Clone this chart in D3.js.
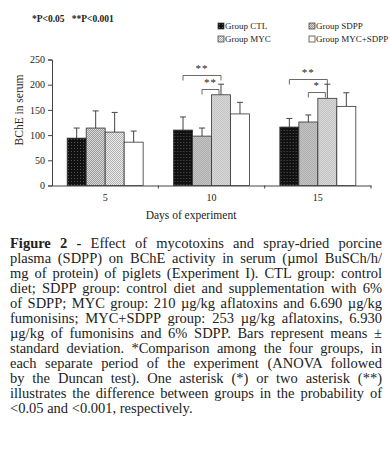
<!DOCTYPE html>
<html>
<head>
<meta charset="utf-8">
<script src="https://cdn.jsdelivr.net/npm/d3@7"></script>
<style>
  body { margin: 0; background: #fff; }
  svg { display: block; }
  text { font-family: "Liberation Serif", "Times New Roman", serif; fill: #222; }
</style>
</head>
<body>
<svg id="chart" width="390" height="473"></svg>
<script>
// data
var days = ["5", "10", "15"]
var groups = ["CTL", "SDPP", "MYC", "MYC+SDPP"]
var legendLabels = ["Group CTL", "Group SDPP", "Group MYC", "Group MYC+SDPP"]
var means = [
  [94, 114, 106, 86],     // day 5
  [110, 98, 180, 142],    // day 10
  [116, 126, 173, 157]    // day 15
]
var sds = [
  [20, 34, 39, 22],
  [26, 16, 21, 23],
  [17, 14, 28, 27]
]
var yTicks = [0, 50, 100, 150, 200, 250]
// significance brackets: [day index, group from, group to, label, level]
var brackets = [
  [1, 0, 2, "**", 0],
  [1, 1, 2, "**", 1],
  [2, 0, 2, "**", 0],
  [2, 1, 2, "*", 1]
]
var captionLines = [
  ["Figure 2 -", " Effect of mycotoxins and spray-dried porcine"],
  ["", "plasma (SDPP) on BChE activity in serum (\u00b5mol BuSCh/h/"],
  ["", "mg of protein) of piglets (Experiment I). CTL group: control"],
  ["", "diet; SDPP group: control diet and supplementation with 6%"],
  ["", "of SDPP; MYC group: 210 \u00b5g/kg aflatoxins and 6.690 \u00b5g/kg"],
  ["", "fumonisins; MYC+SDPP group: 253 \u00b5g/kg aflatoxins, 6.930"],
  ["", "\u00b5g/kg of fumonisins and 6% SDPP. Bars represent means \u00b1"],
  ["", "standard deviation. *Comparison among the four groups, in"],
  ["", "each separate period of the experiment (ANOVA followed"],
  ["", "by the Duncan test). One asterisk (*) or two asterisk (**)"],
  ["", "illustrates the difference between groups in the probability of"],
  ["", "<0.05 and <0.001, respectively."]
]

var svg = d3.select("#chart")

// fill patterns
var defs = svg.append("defs")
function pattern(id, bg, fg, size, cells){
  var p = defs.append("pattern").attr("id", id).attr("patternUnits", "userSpaceOnUse")
    .attr("width", size).attr("height", size)
  p.append("rect").attr("width", size).attr("height", size).attr("fill", bg)
  cells.forEach(c => {
    p.append("rect").attr("x", c[0]).attr("y", c[1]).attr("width", 1).attr("height", 1).attr("fill", fg)
  })
}
pattern("pCTL", "#111", "#555", 3, [[1, 1]])
pattern("pSDPP", "#9a9a9a", "#d8d8d8", 2, [[0, 0], [1, 1]])
pattern("pMYC", "#ececec", "#b0b0b0", 2, [[0, 0], [1, 1]])
var fills = ["url(#pCTL)", "url(#pSDPP)", "url(#pMYC)", "#fff"]

var x0 = d3.scaleBand().domain(days).range([52, 371])
var x1 = d3.scaleBand().domain(groups).range([0, x0.bandwidth()]).paddingOuter(0.8)
var y = d3.scaleLinear().domain([0, 250]).range([185.5, 59.5])

// y axis
var yAxis = svg.append("g").attr("transform", "translate(52,0)")
  .call(d3.axisLeft(y).tickValues(yTicks).tickSize(4).tickPadding(3))
yAxis.select(".domain").attr("stroke", "#444")
yAxis.selectAll(".tick line").attr("stroke", "#444")
yAxis.selectAll(".tick text").style("font-family", "Liberation Serif").style("font-size", "10px").attr("fill", "#222")

// x axis
var xAxis = svg.append("g").attr("transform", "translate(0," + y(0) + ")")
  .call(d3.axisBottom(x0).tickSize(0).tickPadding(8).tickSizeOuter(0))
xAxis.select(".domain").attr("stroke", "#444")
xAxis.selectAll(".tick text").style("font-family", "Liberation Serif").style("font-size", "10px").attr("fill", "#222")
svg.append("g").selectAll("line").data(days.slice(1).concat(["end"])).join("line")
  .attr("x1", d => d == "end" ? x0.range()[1] : x0(d))
  .attr("x2", d => d == "end" ? x0.range()[1] : x0(d))
  .attr("y1", y(0)).attr("y2", y(0) + 3).attr("stroke", "#444")

// bars
var dayG = svg.append("g").selectAll("g").data(days).join("g")
  .attr("transform", d => "translate(" + x0(d) + ",0)")
dayG.each(function(d, di){
  var g = d3.select(this)
  groups.forEach((grp, gi) => {
    var v = means[di][gi], s = sds[di][gi]
    var cx = x1(grp) + x1.bandwidth() / 2
    g.append("line").attr("x1", cx).attr("x2", cx).attr("y1", y(v)).attr("y2", y(v + s))
      .attr("stroke", "#444").attr("stroke-width", 1)
    g.append("line").attr("x1", cx - 3).attr("x2", cx + 3).attr("y1", y(v + s)).attr("y2", y(v + s))
      .attr("stroke", "#444").attr("stroke-width", 1)
    g.append("rect").attr("x", x1(grp)).attr("y", y(v))
      .attr("width", x1.bandwidth()).attr("height", y(0) - y(v))
      .attr("fill", fills[gi]).attr("stroke", "#333").attr("stroke-width", 0.8)
  })
})

// significance brackets
brackets.forEach(b => {
  var base = x0(days[b[0]])
  var xa = base + x1(groups[b[1]]) + x1.bandwidth() / 2
  var xb = base + x1(groups[b[2]]) + x1.bandwidth() / 2 - (b[4] ? 2 : 0)
  var yy = b[0] == 1 ? (b[4] ? 89.5 : 75.5) : (b[4] ? 92.5 : 79.5)
  svg.append("path")
    .attr("d", "M" + xa + "," + (yy + 5) + "V" + yy + "H" + xb + "V" + (yy + 5))
    .attr("fill", "none").attr("stroke", "#444").attr("stroke-width", 0.8)
  svg.append("text").attr("x", (xa + xb) / 2).attr("y", yy - 4)
    .attr("text-anchor", "middle").style("font-size", "11px").style("letter-spacing", "1px")
    .text(b[3])
})

// axis titles
svg.append("text").attr("transform", "translate(23,110) rotate(-90)")
  .attr("text-anchor", "middle").style("font-size", "11.5px").text("BChE in serum")
svg.append("text").attr("x", 191).attr("y", 219)
  .attr("text-anchor", "middle").style("font-size", "11.5px").text("Days of experiment")

// header note
svg.append("text").attr("x", 32).attr("y", 22).style("font-size", "9.5px").style("font-weight", "bold")
  .attr("xml:space", "preserve").text("*P<0.05   **P<0.001")

// legend
var legPos = [[218, 29], [309, 29], [218, 42], [309, 42]]
legendLabels.forEach((lab, i) => {
  var lg = svg.append("g").attr("transform", "translate(" + legPos[i][0] + "," + legPos[i][1] + ")")
  lg.append("rect").attr("x", 0).attr("y", -6).attr("width", 6).attr("height", 6)
    .attr("fill", fills[i]).attr("stroke", "#333").attr("stroke-width", 0.7)
  lg.append("text").attr("x", 7).attr("y", 0).style("font-size", "9px").text(lab)
})

// caption, justified lines
var capLeft = 10, capRight = 382, capTop = 248, lineH = 15
captionLines.forEach((ln, i) => {
  var t = svg.append("text").attr("x", capLeft).attr("y", capTop + i * lineH)
    .style("font-size", "14.5px").attr("xml:space", "preserve")
  if (ln[0]) t.append("tspan").style("font-weight", "bold").text(ln[0])
  t.append("tspan").text(ln[1])
  if (i < captionLines.length - 1) {
    var w = t.node().getComputedTextLength()
    var full = ln[0] + ln[1]
    var nSpaces = (full.trim().match(/ /g) || []).length
    if (nSpaces > 0) t.style("word-spacing", ((capRight - capLeft - w) / nSpaces) + "px")
  }
})
</script>
</body>
</html>
